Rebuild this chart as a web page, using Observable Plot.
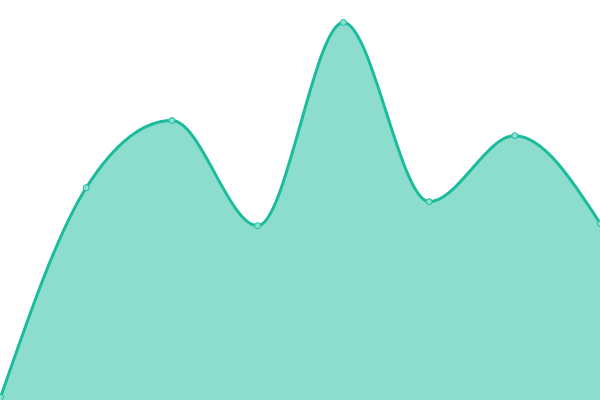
<!DOCTYPE html>
<html><head><meta charset="utf-8">
<script src="https://cdn.jsdelivr.net/npm/d3@7"></script>
<script src="https://cdn.jsdelivr.net/npm/@observablehq/plot@0.6"></script>
<style>body{margin:0;background:#fff}</style>
</head><body><div id="chart"></div>
<script>
const xs = [0, 1, 2, 3, 4, 5, 6, 7];
const values = [0.75, 53.2, 70, 43.7, 94.5, 49.7, 66.2, 44.2];
const data = xs.map((x, i) => ({x, y: values[i]}));
const chart = Plot.plot({
  width: 600, height: 400,
  margin: 0,
  x: {domain: [0, 7], axis: null},
  y: {domain: [0, 100], axis: null},
  marks: [
    Plot.areaY(data, {x: "x", y: "y", curve: "monotone-x", fill: "#1abc9c", fillOpacity: 0.5}),
    Plot.line(data, {x: "x", y: "y", curve: "monotone-x", stroke: "#1abc9c", strokeWidth: 3}),
    Plot.dot(data, {x: "x", y: "y", r: 3, fill: "#8ce0cf", stroke: "#1abc9c", strokeWidth: 1})
  ]
});
document.getElementById("chart").append(chart);
</script></body></html>
